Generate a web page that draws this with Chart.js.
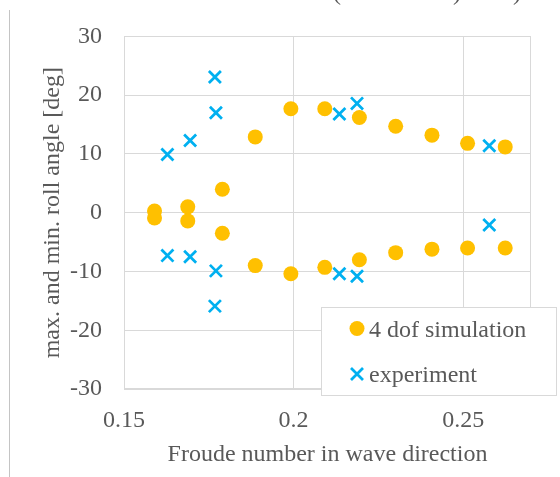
<!DOCTYPE html>
<html>
<head>
<meta charset="utf-8">
<script src="https://cdn.jsdelivr.net/npm/chart.js@4"></script>
<style>
  html, body { margin: 0; padding: 0; background: #fff; }
  #wrap { position: relative; width: 560px; height: 477px; }
</style>
</head>
<body>
<div id="wrap"><canvas id="rollChart"></canvas></div>
<script>
// roll angle vs Froude number: 4 dof simulation vs experiment

const simFroude = [0.159, 0.1688, 0.179, 0.1887, 0.1992, 0.2092, 0.2194, 0.2301, 0.2408, 0.2513, 0.2624];
const simMax    = [0.3, 1.0, 4.0, 12.9, 17.7, 17.7, 16.2, 14.7, 13.2, 11.8, 11.2];
const simMin    = [-0.9, -1.4, -3.5, -9.0, -10.4, -9.3, -8.0, -6.8, -6.2, -6.0, -6.0];

const expFroude = [0.1628, 0.1695, 0.1768, 0.1771, 0.2135, 0.2187, 0.2577];
const expMax    = [9.9, 12.3, 23.1, 17.0, 16.8, 18.6, 11.4];
const expMin    = [-7.3, -7.5, -15.9, -9.9, -10.4, -10.8, -2.1];

const xTicks = [0.15, 0.2, 0.25];
const yTicks = [-30, -20, -10, 0, 10, 20, 30];

const seriesNames = ['4 dof simulation', 'experiment'];

const ORANGE = '#FFC000';
const BLUE = '#00B0F0';
const GRID = '#D9D9D9';
const TEXT = '#595959';
const FONT = "'Liberation Serif', 'Times New Roman', serif";
const FSIZE = 24;

const toPoints = (xs, ys) => xs.map((x, i) => ({ x, y: ys[i] }));

// ─── frame, legend box, stray caption marks ──────────────────────────────────
const decor = {
  id: 'decor',
  beforeDraw(chart) {
    const ctx = chart.ctx;
    ctx.save();
    // page edge line on the left
    ctx.strokeStyle = '#C4C4C4';
    ctx.lineWidth = 1;
    ctx.beginPath();
    ctx.moveTo(9.5, 10);
    ctx.lineTo(9.5, 477);
    ctx.stroke();
    // bottoms of a caption line cut off above the picture
    ctx.fillStyle = TEXT;
    ctx.font = FSIZE + 'px ' + FONT;
    ctx.textAlign = 'center';
    ctx.textBaseline = 'alphabetic';
    ctx.fillText('(', 337, 0);
    ctx.fillText(')', 457, 0);
    ctx.fillText(')', 517, 0);
    ctx.restore();
  },
  afterDraw(chart) {
    const ctx = chart.ctx;
    const a = chart.chartArea;
    ctx.save();
    ctx.strokeStyle = GRID;
    ctx.lineWidth = 1;
    ctx.strokeRect(Math.round(a.left) + 0.5, Math.round(a.top) + 0.5,
      Math.round(a.right - a.left) - 1, Math.round(a.bottom - a.top) - 1);

    // legend box
    ctx.fillStyle = '#fff';
    ctx.fillRect(321, 307, 235, 88);
    ctx.strokeStyle = GRID;
    ctx.strokeRect(321.5, 307.5, 235, 88);

    ctx.fillStyle = ORANGE;
    ctx.beginPath();
    ctx.arc(357, 328.5, 7.5, 0, Math.PI * 2);
    ctx.fill();

    ctx.strokeStyle = BLUE;
    ctx.lineWidth = 2.75;
    const r = 6;
    ctx.beginPath();
    ctx.moveTo(357 - r, 374 - r); ctx.lineTo(357 + r, 374 + r);
    ctx.moveTo(357 + r, 374 - r); ctx.lineTo(357 - r, 374 + r);
    ctx.stroke();

    ctx.fillStyle = TEXT;
    ctx.font = FSIZE + 'px ' + FONT;
    ctx.textAlign = 'left';
    ctx.textBaseline = 'alphabetic';
    ctx.fillText(seriesNames[0], 369, 337);
    ctx.fillText(seriesNames[1], 369, 382);
    ctx.restore();
  },
};

new Chart(document.getElementById('rollChart'), {
  type: 'scatter',
  data: {
    datasets: [
      {
        label: seriesNames[0],
        data: toPoints(simFroude, simMax).concat(toPoints(simFroude, simMin)),
        pointStyle: 'circle',
        pointRadius: 7.5,
        pointBackgroundColor: ORANGE,
        pointBorderWidth: 0,
        pointBorderColor: ORANGE,
      },
      {
        label: seriesNames[1],
        data: toPoints(expFroude, expMax).concat(toPoints(expFroude, expMin)),
        pointStyle: 'crossRot',
        pointRadius: 8.5,
        pointBorderColor: BLUE,
        pointBorderWidth: 2.75,
      },
    ],
  },
  options: {
    responsive: true,
    maintainAspectRatio: false,
    animation: false,
    events: [],
    layout: { padding: { top: 35, right: 29, left: 0, bottom: 0 } },
    plugins: { legend: { display: false }, tooltip: { enabled: false } },
    scales: {
      x: {
        type: 'linear',
        min: 0.15,
        max: 0.27,
        afterBuildTicks: s => { s.ticks = xTicks.map(v => ({ value: v })); },
        afterFit: s => { s.height = 88; },
        grid: { color: GRID, drawTicks: false },
        border: { display: false },
        ticks: {
          color: TEXT,
          font: { family: FONT, size: FSIZE },
          padding: 17,
          maxRotation: 0,
          callback: v => String(v),
        },
        title: {
          display: true,
          text: 'Froude number in wave direction',
          color: TEXT,
          font: { family: FONT, size: FSIZE },
          padding: { top: 0, bottom: 7.5 },
        },
      },
      y: {
        min: -30,
        max: 30,
        afterBuildTicks: s => { s.ticks = yTicks.map(v => ({ value: v })); },
        afterFit: s => { s.width = 124; },
        grid: { color: GRID, drawTicks: false },
        border: { display: false },
        ticks: {
          color: TEXT,
          font: { family: FONT, size: FSIZE },
          padding: 22,
          callback: v => String(v),
        },
        title: {
          display: true,
          text: 'max. and min. roll angle [deg]',
          color: TEXT,
          font: { family: FONT, size: FSIZE },
          padding: { top: 38.5, bottom: 0 },
        },
      },
    },
  },
  plugins: [decor],
});
</script>
</body>
</html>
